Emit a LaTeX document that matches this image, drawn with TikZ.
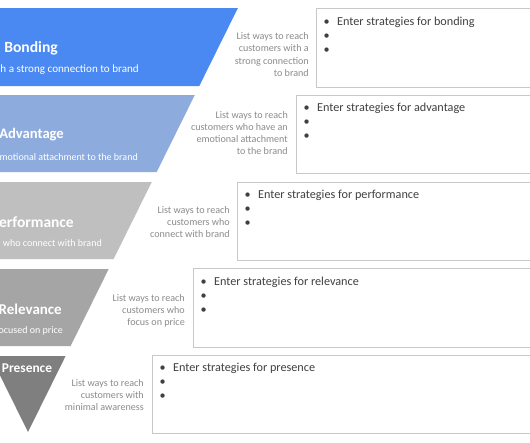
\documentclass[tikz,border=0pt]{standalone}
\usepackage{fontspec}
\setmainfont{Carlito}
\definecolor{bandA}{HTML}{4A88F2}
\definecolor{bandB}{HTML}{8EABDE}
\definecolor{bandC}{HTML}{BFBFBF}
\definecolor{bandD}{HTML}{A5A5A5}
\definecolor{bandE}{HTML}{7F7F7F}
\definecolor{descgray}{HTML}{8C8C8C}
\definecolor{listc}{HTML}{404040}
\definecolor{boxgray}{HTML}{C8C8C8}
\begin{document}
\begin{tikzpicture}[x=1pt,y=-1pt,
  title/.style={font=\bfseries\fontsize{14.6}{17}\selectfont, text=white, inner sep=0pt},
  sub/.style={font=\fontsize{10}{12}\selectfont, text=white, inner sep=0pt, anchor=east},
  desc/.style={font=\fontsize{10.1}{12.2}\selectfont, text=descgray, align=right, inner sep=0pt, anchor=east},
  box/.style={draw=boxgray, line width=0.9pt, fill=white},
  list/.style={font=\fontsize{12.2}{14}\selectfont, text=listc, inner sep=0pt, anchor=base west}]
\useasboundingbox (0,0) rectangle (530,442);
\clip (0,0) rectangle (530,442);
\fill[white] (0,0) rectangle (530,442);
% funnel bands
\fill[bandA] (-181.9,8) -- (237.9,8) -- (199.3,86) -- (-143.3,86) -- cycle;
\fill[bandB] (-138.8,95) -- (194.8,95) -- (156.7,172) -- (-100.7,172) -- cycle;
\fill[bandC] (-95.75,182) -- (151.75,182) -- (113.6,259) -- (-57.6,259) -- cycle;
\fill[bandD] (-52.7,269) -- (108.7,269) -- (70.6,346) -- (-14.6,346) -- cycle;
\fill[bandE] (-9.6,356) -- (65.6,356) -- (28,432) -- cycle;
% band texts
\node[title, anchor=east, font=\bfseries\fontsize{15.6}{18}\selectfont] (t1) at (58,48) {Bonding};
\node[sub, font=\fontsize{11.1}{13}\selectfont] (s1) at (139,70) {h a strong connection to brand};
\node[title, anchor=east] (t2) at (64,135) {Advantage};
\node[sub] (s2) at (138,157) {motional attachment to the brand};
\node[title, anchor=east, font=\bfseries\fontsize{15.5}{18}\selectfont] (t3) at (74,222) {erformance};
\node[sub] (s3) at (102,243) {who connect with brand};
\node[title, anchor=east, font=\bfseries\fontsize{15}{18}\selectfont] (t4) at (62,309) {Relevance};
\node[sub] (s4) at (63,331) {ocused on price};
\node[title, font=\bfseries\fontsize{13.4}{16}\selectfont] (t5) at (27,368) {Presence};
% boxes
\draw[box] (316,8) rectangle (540,87);
\draw[box] (296,95) rectangle (540,173);
\draw[box] (237,182) rectangle (540,260);
\draw[box] (193,268) rectangle (540,347);
\draw[box] (152,355) rectangle (540,433);
% descriptions
\node[desc] (d1) at (309,54.5) {List ways to reach\\customers with a\\strong connection\\to brand};
\node[desc] (d2) at (288,133) {List ways to reach\\customers who have an\\emotional attachment\\to the brand};
\node[desc] (d3) at (230,222) {List ways to reach\\customers who\\connect with brand};
\node[desc] (d4) at (185,311) {List ways to reach\\customers who\\focus on price};
\node[desc] (d5) at (144,395) {List ways to reach\\customers with\\minimal awareness};
% lists
\newcommand{\lstrows}[1]{\begin{tabular}[t]{@{}l@{}}\makebox[13.5pt][l]{•}#1\\•\\•\end{tabular}}
\node[list] (l1) at (323.5,25.5) {\lstrows{Enter strategies for bonding}};
\node[list] (l2) at (303.5,111.5) {\lstrows{Enter strategies for advantage}};
\node[list] (l3) at (244.5,198.5) {\lstrows{Enter strategies for performance}};
\node[list] (l4) at (200.5,285.5) {\lstrows{Enter strategies for relevance}};
\node[list] (l5) at (159.5,371.5) {\lstrows{Enter strategies for presence}};
\end{tikzpicture}
\end{document}
